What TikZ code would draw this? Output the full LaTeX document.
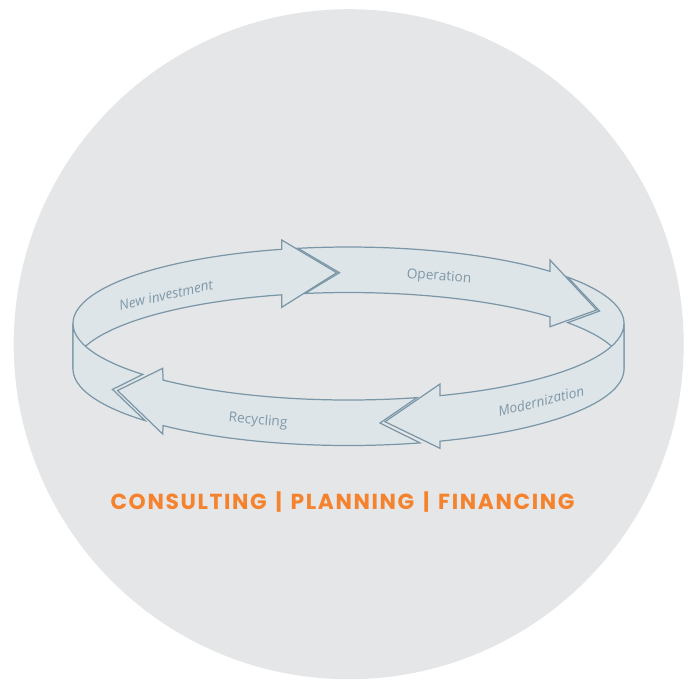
\documentclass[tikz,border=0pt]{standalone}
\usepackage{fontspec}
\newfontfamily\ringfont{Open Sans}
\newfontfamily\tagfont{Poppins}[LetterSpace=7.5]

\definecolor{discgray}{HTML}{E5E6E8}
\definecolor{bandfill}{HTML}{DEE5E9}
\definecolor{bandline}{HTML}{7B97A7}
\definecolor{ringtext}{HTML}{7F98A8}
\definecolor{tagorange}{HTML}{F5832E}

% ring geometry (pixel units)
\newcommand{\ringx}{348.5}
\newcommand{\ringy}{323.5}
\newcommand{\ringa}{275.5}
\newcommand{\ringb}{76.5}
\newcommand{\ringh}{45.5}
\newcommand{\tagbar}{\hspace{5pt}|\hspace{5pt}}

\begin{document}
\begin{tikzpicture}[
    x=0.02cm, y=-0.02cm,
    band/.style={fill=bandfill, draw=bandline, line width=0.7pt, line join=miter},
    ringlabel/.style={text=ringtext, font=\ringfont\fontsize{7.8}{9}\selectfont, inner sep=0pt},
    tagline/.style={text=tagorange, font=\tagfont\bfseries\fontsize{12.4}{14}\selectfont, inner sep=0pt}
]
\useasboundingbox (0,0) rectangle (692,681);

% Disc
\fill[discgray] (348.7,344.2) circle[radius=335];

% Back wall
% Modernization, tail behind
\draw[band] plot[domain=0:37.3, samples=30] ({\ringx+\ringa*cos(\x)},{\ringy-\ringb*sin(\x)})
    -- (599.6,311)
    -- plot[domain=37.3:0, samples=30] ({\ringx+\ringa*cos(\x)},{\ringy+\ringh-\ringb*sin(\x)}) -- cycle;

% Operation
\draw[band] plot[domain=100.56:43, samples=50] ({\ringx+\ringa*cos(\x)},{\ringy-\ringb*sin(\x)})
    -- (550,260) -- (596.7,310) -- (550,326.7)
    -- plot[domain=43:99.1, samples=50] ({\ringx+\ringa*cos(\x)},{\ringy+\ringh-\ringb*sin(\x)})
    -- (339.5,272.7) -- cycle;

% New investment
\draw[band] plot[domain=104:180, samples=60] ({\ringx+\ringa*cos(\x)},{\ringy-\ringb*sin(\x)})
    -- plot[domain=180:104, samples=60] ({\ringx+\ringa*cos(\x)},{\ringy+\ringh-\ringb*sin(\x)})
    -- (281.7,307.3) -- (336.7,272.7) -- (281.7,240) -- cycle;

% Front wall
% New investment, tail in front
\draw[band] plot[domain=180:221.7, samples=30] ({\ringx+\ringa*cos(\x)},{\ringy-\ringb*sin(\x)})
    -- (112.5,389.4)
    -- plot[domain=222.4:180, samples=30] ({\ringx+\ringa*cos(\x)},{\ringy+\ringh-\ringb*sin(\x)}) -- cycle;

% Recycling
\draw[band] plot[domain=284.4:227.7, samples=50] ({\ringx+\ringa*cos(\x)},{\ringy-\ringb*sin(\x)})
    -- (162.7,368.3) -- (117.5,390.5) -- (162.7,434)
    -- plot[domain=227.7:285.04, samples=50] ({\ringx+\ringa*cos(\x)},{\ringy+\ringh-\ringb*sin(\x)})
    -- (380,423) -- cycle;

% Modernization
\draw[band] plot[domain=289.4:360, samples=50] ({\ringx+\ringa*cos(\x)},{\ringy-\ringb*sin(\x)})
    -- plot[domain=360:289.4, samples=50] ({\ringx+\ringa*cos(\x)},{\ringy+\ringh-\ringb*sin(\x)})
    -- (440,448.3) -- (385,421.7) -- (440,384) -- cycle;

% Labels
\node[ringlabel, rotate=13] (newinv) at (166,295) {\itshape New investment};
\node[ringlabel, rotate=-4] (operation) at (439,277) {Operation};
\node[ringlabel, rotate=14] (modern) at (541,401) {\itshape Modernization};
\node[ringlabel, rotate=-5] (recycling) at (258,421) {Recycling};

% Tagline
\node[tagline] (tag) at (342.5,502) {CONSULTING\tagbar PLANNING\tagbar FINANCING};

\end{tikzpicture}
\end{document}
